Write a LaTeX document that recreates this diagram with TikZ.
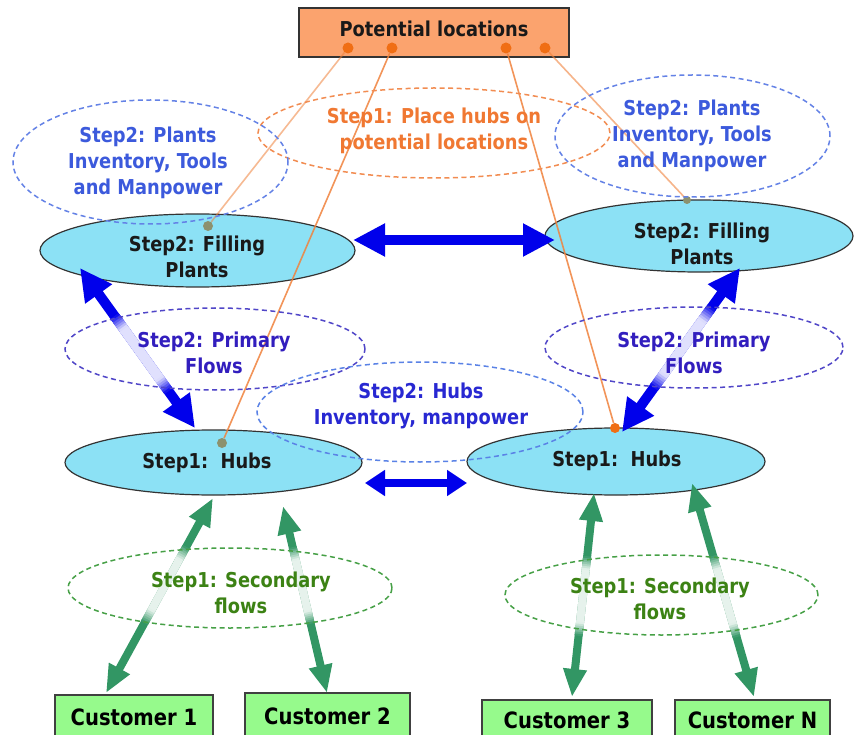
\documentclass[tikz,border=0pt]{standalone}
\usepackage{fontspec}
\setmainfont{DejaVu Sans}[FakeStretch=0.87]
\usetikzlibrary{shapes.geometric,arrows.meta,calc}
\definecolor{boxorange}{RGB}{251,163,110}
\definecolor{dotorange}{RGB}{240,110,20}
\definecolor{lineorange}{RGB}{240,130,60}
\definecolor{txtorange}{RGB}{240,120,50}
\definecolor{cyanfill}{RGB}{140,225,245}
\definecolor{flowblue}{RGB}{0,0,235}
\definecolor{plantdash}{RGB}{100,130,230}
\definecolor{planttxt}{RGB}{60,90,220}
\definecolor{primdash}{RGB}{80,70,200}
\definecolor{primtxt}{RGB}{50,30,190}
\definecolor{hubdash}{RGB}{90,130,230}
\definecolor{hubtxt}{RGB}{40,40,210}
\definecolor{flowgreen}{RGB}{50,150,100}
\definecolor{secdash}{RGB}{70,160,70}
\definecolor{sectxt}{RGB}{60,130,20}
\definecolor{custfill}{RGB}{150,250,140}
\definecolor{greydot}{RGB}{140,145,110}
\newcommand\fadeover[6]{%
  \foreach \k in {0,...,39}{%
    \pgfmathsetmacro\ta{#5+(#6-#5)*\k/40}%
    \pgfmathsetmacro\tb{min(#5+(#6-#5)*(\k+1.6)/40,#6)}%
    \pgfmathtruncatemacro\pc{100-88*min(1,2*sin(180*(\k+0.5)/40))}%
    \draw[line width=#4, draw=#1!\pc!white, line cap=butt] ($(#2)!\ta!(#3)$) -- ($(#2)!\tb!(#3)$);
  }}
\begin{document}
\begin{tikzpicture}[x=1pt,y=-1pt,
  txt/.style={font=\bfseries\fontsize{20.5}{26}\selectfont, align=center, inner sep=0pt},
  cyanell/.style={ellipse, draw=black!80, line width=1.2pt, fill=cyanfill, inner sep=0pt},
  dashell/.style={ellipse, dashed, dash pattern=on 5pt off 3.5pt, line width=1.5pt, inner sep=0pt},
  custbox/.style={rectangle, draw=black!75, fill=custfill, line width=1.2pt, inner sep=0pt,
    font=\bfseries\fontsize{22.5}{24}\selectfont},
  odot/.style={circle, fill=dotorange, minimum size=11pt, inner sep=0pt},
  gdot/.style={circle, fill=greydot, minimum size=10pt, inner sep=0pt},
  oline/.style={draw=lineorange, line width=1.6pt},
  bigblue/.style={draw=flowblue, line width=10pt, >={Triangle[length=32pt,width=31pt]}, <->},
  smallblue/.style={draw=flowblue, line width=8pt, >={Triangle[length=20pt,width=25pt]}, <->},
  greenarr/.style={draw=flowgreen, line width=8pt, >={Triangle[length=28pt,width=22pt]}, <->}
]
\useasboundingbox (0,0) rectangle (854,735);
\fill[white] (0,0) rectangle (854,735);

% potential locations box
\node[rectangle, draw=black!80, fill=boxorange, line width=1.2pt, minimum width=270pt, minimum height=49pt] (pot) at (434,32.5) {};
\node[txt, text=black!90] (pott) at (434,29) {Potential locations};

% cyan ellipses
\node[cyanell, minimum width=315pt, minimum height=73pt] (fpL) at (197.5,250.5) {};
\node[cyanell, minimum width=308pt, minimum height=72pt] (fpR) at (699,236) {};
\node[cyanell, minimum width=297pt, minimum height=65pt] (hubL) at (213.5,462.5) {};
\node[cyanell, minimum width=298pt, minimum height=67pt] (hubR) at (616,461.5) {};

% dots
\node[odot] (d1) at (348,48) {};
\node[odot] (d2) at (392,48) {};
\node[odot] (d3) at (506,48) {};
\node[odot] (d4) at (545,48) {};
\node[gdot] (g1) at (208,226) {};
\node[gdot] (g2) at (222,443) {};
\node[odot, minimum size=10pt] (g3) at (615,428) {};
\node[gdot, minimum size=8pt] (g4) at (687,200) {};

% orange lines
\draw[oline, draw opacity=0.55] (d1) -- (g1);
\draw[oline, draw opacity=0.85] (d2) -- (g2);
\draw[oline, draw opacity=0.85] (d3) -- (g3);
\draw[oline, draw opacity=0.6] (d4) -- (g4);

% arrow end points
\coordinate (fa1) at (353,240);
\coordinate (fa2) at (555,240);
\coordinate (ha1) at (365,483);
\coordinate (ha2) at (467,483);
\coordinate (pl1) at (80,268);
\coordinate (pl2) at (195,428);
\coordinate (pr1) at (740,268);
\coordinate (pr2) at (622,432);
\coordinate (s1a) at (213,498);
\coordinate (s1b) at (106,693);
\coordinate (s2a) at (283,506);
\coordinate (s2b) at (327,693);
\coordinate (s3a) at (594,493);
\coordinate (s3b) at (572,697);
\coordinate (s4a) at (692,483);
\coordinate (s4b) at (754,697);

% blue arrows
\draw[bigblue] (fa1) -- (fa2);
\draw[smallblue] (ha1) -- (ha2);
\draw[bigblue] (pl1) -- (pl2);
\draw[bigblue] (pr1) -- (pr2);
\fadeover{flowblue}{pl1}{pl2}{10pt}{0.3}{0.77}
\fadeover{flowblue}{pr1}{pr2}{10pt}{0.24}{0.73}

% green arrows
\draw[greenarr] (s1a) -- (s1b);
\draw[greenarr] (s2a) -- (s2b);
\draw[greenarr] (s3a) -- (s3b);
\draw[greenarr] (s4a) -- (s4b);
\fadeover{flowgreen}{s1a}{s1b}{8pt}{0.25}{0.64}
\fadeover{flowgreen}{s2a}{s2b}{8pt}{0.22}{0.63}
\fadeover{flowgreen}{s3a}{s3b}{8pt}{0.31}{0.70}
\fadeover{flowgreen}{s4a}{s4b}{8pt}{0.34}{0.72}

% dashed ellipses
\node[dashell, draw=txtorange!85, minimum width=352pt, minimum height=90pt] (place) at (434,133) {};
\node[dashell, draw=plantdash, minimum width=275pt, minimum height=124pt] (invL) at (150.5,162) {};
\node[dashell, draw=plantdash, minimum width=275pt, minimum height=122pt] (invR) at (692.5,136) {};
\node[dashell, draw=primdash, minimum width=300pt, minimum height=82pt] (primL) at (215,349) {};
\node[dashell, draw=primdash, minimum width=298pt, minimum height=81pt] (primR) at (694,347.5) {};
\node[dashell, draw=hubdash, minimum width=326pt, minimum height=100pt] (hubinv) at (420,412) {};
\node[dashell, draw=secdash, minimum width=324pt, minimum height=80pt] (secL) at (230,588) {};
\node[dashell, draw=secdash, minimum width=313pt, minimum height=80pt] (secR) at (661.5,595) {};

% customers
\node[custbox, minimum width=158pt, minimum height=45pt] (c1) at (134,717.5) {Customer 1};
\node[custbox, minimum width=165pt, minimum height=47pt] (c2) at (327.5,716.5) {Customer 2};
\node[custbox, minimum width=170pt, minimum height=40pt] (c3) at (567,720) {Customer 3};
\node[custbox, minimum width=155pt, minimum height=40pt] (cN) at (752.5,720) {Customer N};

% texts
\node[txt, text=black!90] (fpLt) at (197,257) {Step2: Filling\\Plants};
\node[txt, text=black!90] (fpRt) at (702,244) {Step2: Filling\\Plants};
\node[txt, text=black!90] (hubLt) at (207,463) {Step1:\ \ Hubs};
\node[txt, text=black!90] (hubRt) at (617,461) {Step1:\ \ Hubs};
\node[txt, text=txtorange] (placet) at (434,131) {Step1: Place hubs on\\potential locations};
\node[txt, text=planttxt] (invLt) at (148,163) {Step2: Plants\\Inventory, Tools\\and Manpower};
\node[txt, text=planttxt] (invRt) at (692,136) {Step2: Plants\\Inventory, Tools\\and Manpower};
\node[txt, text=primtxt] (primLt) at (214,353) {Step2: Primary\\Flows};
\node[txt, text=primtxt] (primRt) at (694,353) {Step2: Primary\\Flows};
\node[txt, text=hubtxt] (hubinvt) at (421,406) {Step2: Hubs\\Inventory, manpower};
\node[txt, text=sectxt] (secLt) at (241,593) {Step1: Secondary\\flows};
\node[txt, text=sectxt] (secRt) at (660,599) {Step1: Secondary\\flows};
\end{tikzpicture}
\end{document}
